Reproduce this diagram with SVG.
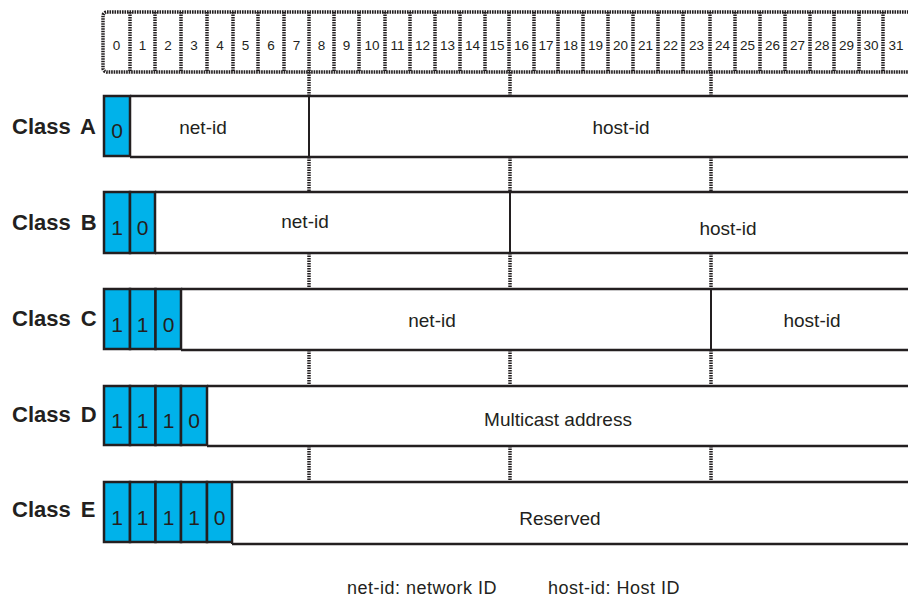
<svg xmlns="http://www.w3.org/2000/svg" width="908" height="597" viewBox="0 0 908 597">
<style>
.cell{fill:none;stroke:#231f20;stroke-width:3.5;stroke-dasharray:1.6 0.9}
.bitn{font-family:"Liberation Sans",Arial,sans-serif;font-size:13.5px;fill:#231f20;text-anchor:middle}
.lbl{font-family:"Liberation Sans",Arial,sans-serif;font-size:22px;font-weight:bold;fill:#231f20;word-spacing:4px}
.blue{fill:#00b2ea;stroke:#231f20;stroke-width:2.5}
.dig{font-family:"Liberation Sans",Arial,sans-serif;font-size:21px;fill:#231f20;text-anchor:middle}
.fld{fill:none;stroke:#231f20;stroke-width:2.5}
.div{stroke:#231f20;stroke-width:2}
.txt{font-family:"Liberation Sans",Arial,sans-serif;font-size:19px;fill:#231f20;text-anchor:middle}
.dot{stroke:#231f20;stroke-width:3.5;stroke-dasharray:1.6 0.9}
.foot{font-family:"Liberation Sans",Arial,sans-serif;font-size:18px;fill:#231f20;letter-spacing:0.5px}
</style>
<rect width="908" height="597" fill="#fff"/>
<g id="bits">
<rect class="cell" x="103" y="12" width="810" height="60" rx="4"/>
<path class="cell" d="M130 12V72M155 12V72M181 12V72M207 12V72M233 12V72M258 12V72M284 12V72M309 12V72M334 12V72M359 12V72M385 12V72M410 12V72M435 12V72M460 12V72M485 12V72M509 12V72M534 12V72M558 12V72M583 12V72M608 12V72M633 12V72M658 12V72M683 12V72M710 12V72M735 12V72M760 12V72M785 12V72M810 12V72M834 12V72M859 12V72M883 12V72"/>
<text class="bitn" y="50"><tspan x="116.5">0</tspan><tspan x="142.5">1</tspan><tspan x="168">2</tspan><tspan x="194">3</tspan><tspan x="220">4</tspan><tspan x="245.5">5</tspan><tspan x="271">6</tspan><tspan x="296.5">7</tspan><tspan x="321.5">8</tspan><tspan x="346.5">9</tspan><tspan x="372">10</tspan><tspan x="397.5">11</tspan><tspan x="422.5">12</tspan><tspan x="447.5">13</tspan><tspan x="472.5">14</tspan><tspan x="497">15</tspan><tspan x="521.5">16</tspan><tspan x="546">17</tspan><tspan x="570.5">18</tspan><tspan x="595.5">19</tspan><tspan x="620.5">20</tspan><tspan x="645.5">21</tspan><tspan x="670.5">22</tspan><tspan x="696.5">23</tspan><tspan x="722.5">24</tspan><tspan x="747.5">25</tspan><tspan x="772.5">26</tspan><tspan x="797.5">27</tspan><tspan x="822">28</tspan><tspan x="846.5">29</tspan><tspan x="871">30</tspan><tspan x="896">31</tspan></text>
</g>
<g id="connectors">
<path class="dot" d="M309 72V96M510 72V96M711 72V96M309 157V192M510 157V192M711 157V192M309 253V289M510 253V289M711 253V289M309 350V386M510 350V386M711 350V386M309 446V482M510 446V482M711 446V482"/>
</g>
<g id="classA">
<text class="lbl" x="12" y="134">Class A</text>
<path class="fld" d="M130 96H910M130 157H910"/>
<line class="div" x1="309" y1="96" x2="309" y2="157"/>
<rect class="blue" x="104" y="96" width="26" height="60"/>
<text class="dig" x="117" y="138">0</text>
<text class="txt" x="203" y="134">net-id</text>
<text class="txt" x="621" y="134">host-id</text>
</g>
<g id="classB">
<text class="lbl" x="12" y="230">Class B</text>
<path class="fld" d="M155 192H910M155 253H910"/>
<line class="div" x1="510" y1="192" x2="510" y2="253"/>
<rect class="blue" x="104" y="192" width="26" height="61"/>
<rect class="blue" x="130" y="192" width="25" height="61"/>
<text class="dig" x="117" y="235">1</text>
<text class="dig" x="142.5" y="235">0</text>
<text class="txt" x="305" y="228">net-id</text>
<text class="txt" x="728" y="235">host-id</text>
</g>
<g id="classC">
<text class="lbl" x="12" y="326">Class C</text>
<path class="fld" d="M181 289H910M181 350H910"/>
<line class="div" x1="711" y1="289" x2="711" y2="350"/>
<rect class="blue" x="104" y="289" width="26" height="60"/>
<rect class="blue" x="130" y="289" width="25.5" height="60"/>
<rect class="blue" x="155.5" y="289" width="25.5" height="60"/>
<text class="dig" x="117" y="332">1</text>
<text class="dig" x="142.5" y="332">1</text>
<text class="dig" x="168.5" y="332">0</text>
<text class="txt" x="432" y="327">net-id</text>
<text class="txt" x="812" y="327">host-id</text>
</g>
<g id="classD">
<text class="lbl" x="12" y="422">Class D</text>
<path class="fld" d="M207 386H910M207 446H910"/>
<rect class="blue" x="104" y="386" width="26" height="59"/>
<rect class="blue" x="130" y="386" width="25.5" height="59"/>
<rect class="blue" x="155.5" y="386" width="25.5" height="59"/>
<rect class="blue" x="181" y="386" width="26" height="59"/>
<text class="dig" x="117" y="428">1</text>
<text class="dig" x="142.5" y="428">1</text>
<text class="dig" x="168.5" y="428">1</text>
<text class="dig" x="194" y="428">0</text>
<text class="txt" x="558" y="426">Multicast address</text>
</g>
<g id="classE">
<text class="lbl" x="12" y="517">Class E</text>
<path class="fld" d="M232 482H910M232 544H910"/>
<line class="div" x1="232" y1="482" x2="232" y2="544"/>
<rect class="blue" x="104" y="482" width="26" height="60"/>
<rect class="blue" x="130" y="482" width="25.5" height="60"/>
<rect class="blue" x="155.5" y="482" width="25.5" height="60"/>
<rect class="blue" x="181" y="482" width="26" height="60"/>
<rect class="blue" x="207" y="482" width="25" height="60"/>
<text class="dig" x="117" y="525">1</text>
<text class="dig" x="142.5" y="525">1</text>
<text class="dig" x="168.5" y="525">1</text>
<text class="dig" x="194" y="525">1</text>
<text class="dig" x="219.5" y="525">0</text>
<text class="txt" x="560" y="525">Reserved</text>
</g>
<g id="legend">
<text class="foot" x="347" y="594">net-id: network ID</text>
<text class="foot" x="548" y="594">host-id: Host ID</text>
</g>
</svg>
